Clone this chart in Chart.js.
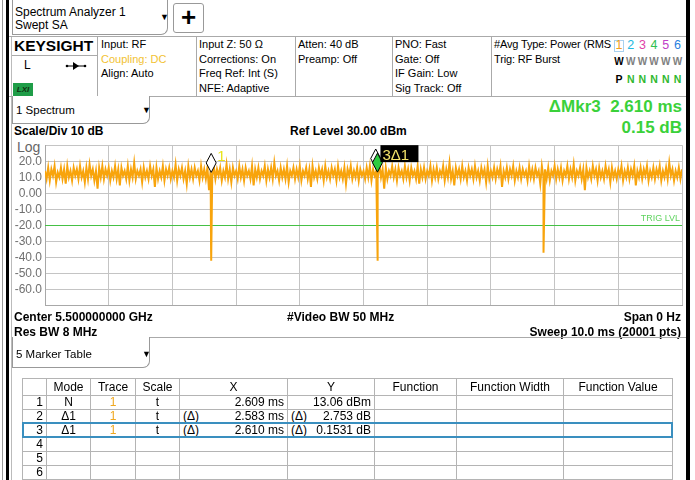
<!DOCTYPE html>
<html>
<head>
<meta charset="utf-8">
<script src="https://cdn.jsdelivr.net/npm/chart.js@4.4.0/dist/chart.umd.min.js"></script>
<style>
  body { margin: 0; width: 695px; height: 480px; overflow: hidden; background: #fff;
         font-family: "Liberation Sans", Arial, sans-serif; color: #000; position: relative; }
  .abs { position: absolute; white-space: pre; }
  .line { position: absolute; background: #aaa; }
  .info { position: absolute; font-size: 11px; line-height: 14.5px; top: 37px; }
  .bold12 { font-weight: bold; font-size: 12px; }
  .dd { position: absolute; border: 1px solid #999; border-top: none; border-radius: 0 0 7px 0;
        box-sizing: border-box; background: #fff; }
  .caret { position: absolute; font-size: 9px; }
  #plotWrap { position: absolute; left: 0; top: 135px; width: 690px; height: 181px; }
  table { position: absolute; left: 22px; top: 378px; border-collapse: collapse; table-layout: fixed;
          font-size: 12px; }
  td { border: 1px solid #b4b4b4; padding: 0 3px; height: 13px; line-height: 13px; white-space: nowrap;
       overflow: hidden; }
  tr.head td { height: 16px; text-align: center; }
  .c { text-align: center; }
  .r { text-align: right; }
  .tr1 { color: #f0a820; }
  .pre { float: left; }
</style>
</head>
<body>
<!-- window frame -->
<div class="line" style="left:2px;top:0;width:1px;height:480px;background:#999"></div>
<div class="line" style="left:6px;top:0;width:3px;height:480px;background:#000"></div>
<div class="line" style="left:686px;top:0;width:4px;height:480px;background:#000"></div>
<div class="line" style="left:11px;top:37px;width:1px;height:443px;background:#bbb"></div>

<!-- top tab -->
<div class="dd" style="left:12px;top:0;width:156px;height:35px;"></div>
<div class="abs" style="left:15px;top:6px;font-size:12px;line-height:13px">Spectrum Analyzer 1
Swept SA</div>
<div class="caret" style="left:160px;top:12px">&#9660;</div>
<div class="abs" style="left:173px;top:3px;width:31px;height:30px;border:1px solid #999;border-radius:3px;box-sizing:border-box;font-size:26px;font-weight:bold;line-height:27px;text-align:center">+</div>

<!-- info bar -->
<div class="line" style="left:9px;top:36px;width:677px;height:1px"></div>
<div class="line" style="left:9px;top:96px;width:677px;height:1px"></div>
<div class="abs" style="left:14px;top:37px;font-size:15.5px;font-weight:bold;line-height:18px">KEYSIGHT</div>
<div class="line" style="left:12px;top:55px;width:85px;height:1px"></div>
<div class="abs" style="left:24px;top:58px;font-size:12px">L</div>
<svg class="abs" style="left:64px;top:60px" width="24" height="12">
  <circle cx="3" cy="6" r="1.3" fill="#000"/><line x1="3" y1="6" x2="21" y2="6" stroke="#000" stroke-width="1"/>
  <polygon points="9,2 15,6 9,10" fill="#000"/><circle cx="21" cy="6" r="1.3" fill="#000"/>
</svg>
<div class="abs" style="left:13px;top:83px;width:20px;height:13px;background:#1f9d48;font-size:8px;font-style:italic;font-weight:bold;line-height:13px;text-align:center;color:#103010">LXI</div>
<div class="line" style="left:97px;top:37px;width:1px;height:59px"></div>
<div class="line" style="left:196px;top:37px;width:1px;height:59px"></div>
<div class="line" style="left:295px;top:37px;width:1px;height:59px"></div>
<div class="line" style="left:392px;top:37px;width:1px;height:59px"></div>
<div class="line" style="left:491px;top:37px;width:1px;height:59px"></div>

<div class="info abs" style="left:101px">Input: RF
<span style="color:#f2c233">Coupling: DC</span>
Align: Auto</div>
<div class="info abs" style="left:199px">Input Z: 50 Ω
Corrections: On
Freq Ref: Int (S)
NFE: Adaptive</div>
<div class="info abs" style="left:298px">Atten: 40 dB
Preamp: Off</div>
<div class="info abs" style="left:395px">PNO: Fast
Gate: Off
IF Gain: Low
Sig Track: Off</div>
<div class="info abs" style="left:494px;letter-spacing:-0.15px">#Avg Type: Power (RMS
Trig: RF Burst</div>

<div class="abs" style="left:614px;top:40px;width:10px;height:12px;border:1px solid #a8d0ee;box-sizing:border-box"></div>
<div id="traceBox"></div>

<!-- spectrum window header -->
<div class="dd" style="left:12px;top:96px;width:138px;height:28px;"></div>
<div class="abs" style="left:16px;top:104px;font-size:11.5px">1 Spectrum</div>
<div class="caret" style="left:142px;top:105px">&#9660;</div>

<div class="abs bold12" style="left:14px;top:124px">Scale/Div 10 dB</div>
<div class="abs bold12" style="left:290px;top:124px">Ref Level 30.00 dBm</div>
<div class="abs" style="right:13px;top:97px;font-size:17px;font-weight:bold;color:#3ad13a">ΔMkr3  2.610 ms</div>
<div class="abs" style="right:13px;top:118px;font-size:17px;font-weight:bold;color:#3ad13a">0.15 dB</div>
<div class="abs" style="left:17px;top:139px;font-size:14px;color:#666">Log</div>

<div id="plotWrap"><canvas id="spectrum"></canvas></div>

<div class="abs bold12" style="left:14px;top:310px">Center 5.500000000 GHz</div>
<div class="abs bold12" style="left:14px;top:325px">Res BW 8 MHz</div>
<div class="abs bold12" style="left:287px;top:310px">#Video BW 50 MHz</div>
<div class="abs bold12" style="right:14px;top:310px">Span 0 Hz</div>
<div class="abs bold12" style="right:14px;top:325px">Sweep 10.0 ms (20001 pts)</div>

<!-- marker table -->
<div class="line" style="left:12px;top:337px;width:674px;height:1px"></div>
<div class="dd" style="left:12px;top:337px;width:138px;height:31px;"></div>
<div class="abs" style="left:16px;top:348px;font-size:11.5px">5 Marker Table</div>
<div class="caret" style="left:142px;top:349px">&#9660;</div>

<table id="mkrTable">
  <colgroup>
    <col style="width:24px"><col style="width:44px"><col style="width:45px"><col style="width:44px">
    <col style="width:108px"><col style="width:87px"><col style="width:82px"><col style="width:107px"><col style="width:109px">
  </colgroup>
  <tr class="head"><td></td><td>Mode</td><td>Trace</td><td>Scale</td><td>X</td><td>Y</td><td>Function</td><td>Function Width</td><td>Function Value</td></tr>
</table>
<div class="abs" style="left:22px;top:422px;width:651px;height:16px;border:2px solid #3a8fbf;box-sizing:border-box"></div>

<script>
// sweep: 0..10 ms, one sample every 0.025 ms
const sweepStep = 0.025;
const sweepLevels = [
  14, 9, 16, 8, 15, 11, 17, 7, 13, 10, 16, 9, 15, 6, 17, 10, 14, 8, 16, 11,
  15, 9, 17, 10, 14, 7, 16, 9, 18, 11, 15, 8, 14, 3, 16, 10, 17, 9, 15, 11,
  16, 8, 14, 10, 17, 9, 15, 5, 16, 11, 14, 9, 17, 8, 15, 10, 19, 9, 14, 11,
  15, 7, 16, 10, 14, 9, 17, 11, 15, 4, 16, 9, 14, 10, 17, 8, 15, 11, 16, 9,
  14, 10, 18, 8, 15, 11, 16, 9, 14, 6, 17, 10, 15, 9, 16, 11, 14, 8, 17, 10,
  15, 9, 16, 2, 14, 10, 17, 9, 15, 11, 16, 8, 14, 10, 18, 9, 15, 7, 16, 11,
  14, 9, 17, 10, 15, 8, 16, 11, 14, 9, 17, 5, 15, 10, 16, 9, 14, 11, 17, 8,
  15, 10, 16, 9, 19, 11, 14, 8, 16, 10, 15, 9, 17, 7, 14, 11, 16, 9, 15, 10,
  17, 8, 14, 11, 16, 9, 15, 4, 17, 10, 14, 9, 16, 11, 15, 8, 17, 10, 14, 9,
  16, 11, 15, 8, 17, 10, 14, 9, 16, 6, 15, 11, 17, 9, 14, 10, 16, 8, 15, 11,
  14, 9, 16, 10, 17, 8, 15, 11, 14, 9, 18, 10, 15, 3, 16, 9, 14, 11, 17, 10,
  15, 8, 16, 11, 14, 9, 17, 10, 15, 8, 16, 11, 14, 9, 17, 6, 15, 10, 16, 9,
  14, 11, 17, 8, 15, 10, 16, 9, 14, 11, 17, 8, 15, 10, 19, 9, 14, 5, 16, 11,
  15, 9, 17, 10, 14, 8, 16, 11, 15, 9, 17, 10, 14, 8, 16, 11, 15, 7, 17, 9,
  14, 10, 16, 9, 15, 11, 17, 4, 14, 10, 16, 9, 15, 11, 17, 8, 14, 10, 16, 9,
  15, 11, 14, 8, 17, 10, 15, 9, 16, 11, 14, 6, 17, 10, 15, 9, 16, 8, 14, 11,
  17, 9, 15, 10, 16, 8, 14, 11, 17, 9, 15, 10, 18, 8, 14, 11, 16, 9, 15, 2,
  16, 10, 14, 9, 17, 11, 15, 8, 16, 10, 14, 9, 17, 11, 15, 7, 16, 10, 14, 9,
  15, 11, 17, 8, 14, 10, 16, 9, 15, 11, 17, 5, 14, 10, 16, 9, 15, 11, 17, 8,
  14, 10, 16, 9, 15, 11, 17, 8, 14, 10, 16, 9, 19, 11, 15, 8, 14, 10, 16, 9,
  15
];
// burst gaps
const dipTimes = [2.607, 2.609, 5.217, 5.219, 7.826];
const dipLevels = [-35, -42, -30, -42, -37];

const trigLevel = -20;

const yTickValues = [20, 10, 0, -10, -20, -30, -40, -50, -60];
const yTickLabels = ['20.0', '10.0', '0.00', '-10.0', '-20.0', '-30.0', '-40.0', '-50.0', '-60.0'];

const markerNames = ['1', '2', '3'];
const markerTimes = [2.609, 5.192, 5.219];
const markerLevels = [13.06, 15.81, 13.21];

const tableModes = ['N', 'Δ1', 'Δ1'];
const tableX = ['2.609 ms', '2.583 ms', '2.610 ms'];
const tableY = ['13.06 dBm', '2.753 dB', '0.1531 dB'];

const traceNums = ['1', '2', '3', '4', '5', '6'];
const traceColors = ['#f0a020', '#22b8e0', '#e040a8', '#2fc050', '#c040c8', '#2a80e0'];
const traceTypes = ['W', 'W', 'W', 'W', 'W', 'W'];
const traceDetectors = ['P', 'N', 'N', 'N', 'N', 'N'];

// trace indicator box
const traceBox = document.getElementById('traceBox');
traceNums.forEach((n, i) => {
    const cx = 619 + i * 11.7;
    const add = (txt, top, style) => {
        const d = document.createElement('div');
        d.className = 'abs';
        d.style.cssText = `left:${cx - 7}px;width:14px;text-align:center;top:${top}px;` + style;
        d.textContent = txt;
        traceBox.appendChild(d);
    };
    add(n, 38, `font-size:12.5px;color:${traceColors[i]}`);
    add(traceTypes[i], 56, `font-size:10px;font-weight:bold;color:${i === 0 ? '#000' : '#808080'}`);
    add(traceDetectors[i], 73, `font-size:10.5px;font-weight:bold;color:${i === 0 ? '#000' : '#2fb82f'}`);
});

// marker table rows
const table = document.getElementById('mkrTable');
for (let r = 0; r < 6; r++) {
    const tr = document.createElement('tr');
    let html = `<td class="r">${r + 1}</td>`;
    if (r < tableModes.length) {
        const rel = r > 0 ? '(Δ)' : '';
        html += `<td class="c">${tableModes[r]}</td><td class="c tr1">1</td><td class="c">t</td>` +
            `<td class="r"><span class="pre">${rel}</span>${tableX[r]}</td>` +
            `<td class="r"><span class="pre">${rel}</span>${tableY[r]}</td><td></td><td></td><td></td>`;
    } else {
        html += '<td></td><td></td><td></td><td></td><td></td><td></td><td></td><td></td>';
    }
    tr.innerHTML = html;
    table.appendChild(tr);
}

const traceData = sweepLevels.map((v, i) => ({ x: i * sweepStep, y: v }));
dipTimes.forEach((t, i) => traceData.push({ x: t, y: dipLevels[i] }));
traceData.sort((a, b) => a.x - b.x);

function diamond(ctx, x, yTip, fill) {
    ctx.beginPath();
    ctx.moveTo(x, yTip);
    ctx.lineTo(x + 5, yTip - 9.5);
    ctx.lineTo(x, yTip - 19);
    ctx.lineTo(x - 5, yTip - 9.5);
    ctx.closePath();
    ctx.fillStyle = fill;
    ctx.fill();
    ctx.strokeStyle = '#000';
    ctx.lineWidth = 1;
    ctx.stroke();
}

const markerPlugin = {
    id: 'markers',
    afterDatasetsDraw(chart) {
        const { ctx, scales: { x, y }, chartArea } = chart;
        ctx.save();
        // trigger level label
        ctx.font = '9px "Liberation Sans", Arial';
        ctx.fillStyle = '#5fd45f';
        ctx.textAlign = 'right';
        ctx.textBaseline = 'bottom';
        ctx.fillText('TRIG LVL', chartArea.right - 2, y.getPixelForValue(trigLevel) - 2);

        const fills = ['#fff', '#fff', '#2ecc40'];
        markerTimes.forEach((t, i) => {
            diamond(ctx, x.getPixelForValue(t), y.getPixelForValue(markerLevels[i]), fills[i]);
        });
        // labels
        const x1 = x.getPixelForValue(markerTimes[0]);
        const y1 = y.getPixelForValue(markerLevels[0]);
        ctx.font = '15px "Liberation Sans", Arial';
        ctx.fillStyle = '#e8e41c';
        ctx.textAlign = 'left';
        ctx.textBaseline = 'alphabetic';
        ctx.fillText(markerNames[0], x1 + 6, y1 - 11);

        const x3 = x.getPixelForValue(markerTimes[2]);
        const y3 = y.getPixelForValue(markerLevels[2]);
        ctx.fillStyle = '#000';
        ctx.fillRect(x3 + 3, y3 - 27, 38, 17);
        ctx.font = '15px "Liberation Sans", Arial';
        ctx.fillStyle = '#f3e36a';
        ctx.fillText(markerNames[2] + 'Δ1', x3 + 5, y3 - 12);
        ctx.restore();
    }
};

new Chart(document.getElementById('spectrum'), {
    type: 'line',
    data: {
        datasets: [
            {
                data: traceData,
                borderColor: '#f8a40c',
                borderWidth: 2,
                pointRadius: 0,
                tension: 0
            },
            {
                data: [{ x: 0, y: trigLevel }, { x: 10, y: trigLevel }],
                borderColor: '#45c045',
                borderWidth: 1,
                pointRadius: 0
            }
        ]
    },
    options: {
        responsive: true,
        maintainAspectRatio: false,
        animation: false,
        events: [],
        layout: { padding: { left: 0, right: 8, top: 8.7, bottom: 8.7 } },
        plugins: { legend: { display: false }, tooltip: { enabled: false } },
        scales: {
            x: {
                type: 'linear',
                min: 0,
                max: 10,
                ticks: { display: false, stepSize: 1 },
                grid: { color: '#c4c4c4', drawTicks: false },
                border: { color: '#a8a8a8' },
                afterFit(scale) { scale.height = 0; }
            },
            y: {
                min: -70,
                max: 30,
                ticks: {
                    stepSize: 10,
                    autoSkip: false,
                    padding: 3,
                    color: '#707070',
                    font: { family: '"Liberation Sans", Arial', size: 12 },
                    callback: (v) => {
                        const i = yTickValues.indexOf(v);
                        return i < 0 ? '' : yTickLabels[i];
                    }
                },
                grid: { color: '#c4c4c4', drawTicks: false },
                border: { color: '#a8a8a8' },
                afterFit(scale) { scale.width = 45; }
            }
        }
    },
    plugins: [markerPlugin]
});
</script>
</body>
</html>
